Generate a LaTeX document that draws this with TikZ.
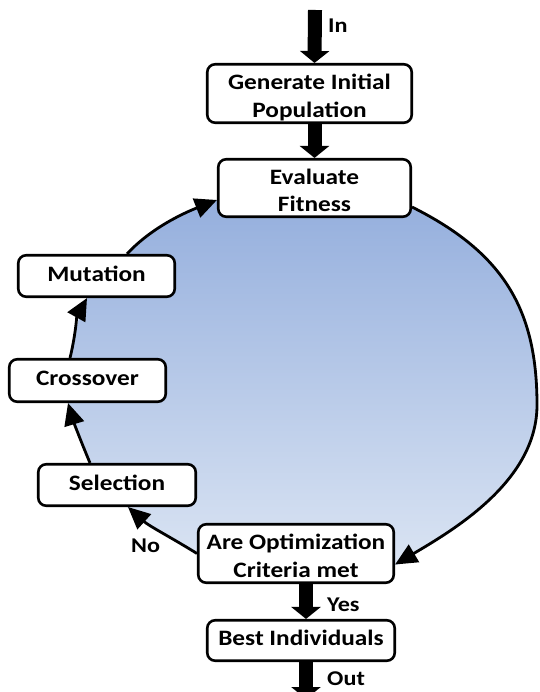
\documentclass[tikz,border=0pt]{standalone}
\usepackage{fontspec}
\setmainfont{Carlito}[FakeStretch=1.15]
\usetikzlibrary{arrows.meta,backgrounds,calc}
\definecolor{gtop}{RGB}{145,172,220}
\definecolor{gbot}{RGB}{218,228,243}
\newcommand{\twoline}[2]{\rule{0pt}{25pt}#1\\#2\rule[-5pt]{0pt}{5pt}}
\begin{document}
\begin{tikzpicture}[x=1pt,y=-1pt,
  box/.style={draw, line width=2.6pt, rounded corners=8pt, fill=white, align=center, inner sep=0pt, font=\fontsize{22}{27.5}\selectfont\bfseries},
  one/.style={text height=18pt, text depth=8pt},
  lbl/.style={anchor=base west, inner sep=0pt, font=\fontsize{21}{25}\selectfont\bfseries},
  big/.style={line width=14pt, -{Triangle[length=12pt,width=29pt]}},
  loopar/.style={line width=2.8pt, -{Triangle[length=22pt,width=20pt]}}]
\useasboundingbox (0,0) rectangle (539,692);

\node[box, minimum width=204.5pt, minimum height=58.5pt] (gen) at (309.5,93.5) {\twoline{Generate Initial}{Population}};
\node[box, minimum width=192.5pt, minimum height=57.5pt] (eval) at (314.5,188) {\twoline{Evaluate}{Fitness}};
\node[box, one, minimum width=156.5pt, minimum height=41.5pt] (mut) at (96.5,276) {Mutation};
\node[box, one, minimum width=156.5pt, minimum height=42.5pt] (cross) at (87.5,380.5) {Crossover};
\node[box, one, minimum width=157.5pt, minimum height=41.5pt] (sel) at (117,485) {Selection};
\node[box, minimum width=195.5pt, minimum height=58.5pt] (are) at (296,553.5) {\twoline{Are Optimization}{Criteria met}};
\node[box, one, minimum width=187.5pt, minimum height=40.5pt] (best) at (301,640.5) {Best Individuals};

\node[lbl] (inL) at (328,33) {In};
\node[lbl] (yesL) at (327,611) {Yes};
\node[lbl] (outL) at (327,685) {Out};
\node[lbl] (noL) at (131,552) {No};

\coordinate (inS) at (315,10);
\coordinate (outE) at (306,699);
\coordinate (rgt) at (537,405);

\draw[big] (inS) -- (eval.north |- gen.north);
\draw[big] (eval.north |- gen.south) -- (eval.north);
\draw[big] ([xshift=5pt]best.north |- are.south) -- ([xshift=5pt]best.north);
\draw[big] ([xshift=5pt]best.south) -- (outE);

\begin{scope}[on background layer]
\shade[top color=gtop, bottom color=gbot]
  (216,200) -- (316,180) -- (413,207)
  .. controls +(92,46) and +(0,-95) .. (537,405)
  .. controls +(0,75) and +(61,-36) .. (397,565)
  -- (197,554)
  .. controls +(-24,-15) and +(21,19) .. (128,508)
  -- (90,463)
  .. controls +(-8,-19) and +(6,20) .. (68,403)
  -- (70,358)
  .. controls +(5,-20) and +(-10,18) .. (87,298)
  -- (127,254)
  .. controls +(24,-26) and +(-33,13) .. (216,200) -- cycle;

\draw[loopar] ([xshift=30.5pt]mut.north) .. controls +(24,-26) and +(-33,13) .. ([yshift=-12pt]eval.west);
\draw[loopar] ([xshift=-17.5pt]cross.north) .. controls +(5,-20) and +(-10,18) .. ([xshift=-9.5pt]mut.south);
\draw[loopar] ([xshift=-27pt]sel.north) .. controls +(-8,-19) and +(6,20) .. ([xshift=-19.5pt]cross.south);
\draw[loopar] (are.west) .. controls +(-24,-15) and +(21,19) .. ([xshift=11pt]sel.south);
\draw[loopar] ([yshift=11pt]eval.south east) .. controls +(92,46) and +(0,-95) .. (rgt)
  .. controls +(0,75) and +(61,-36) .. ([yshift=-11pt]are.east);
\end{scope}
\end{tikzpicture}
\end{document}
